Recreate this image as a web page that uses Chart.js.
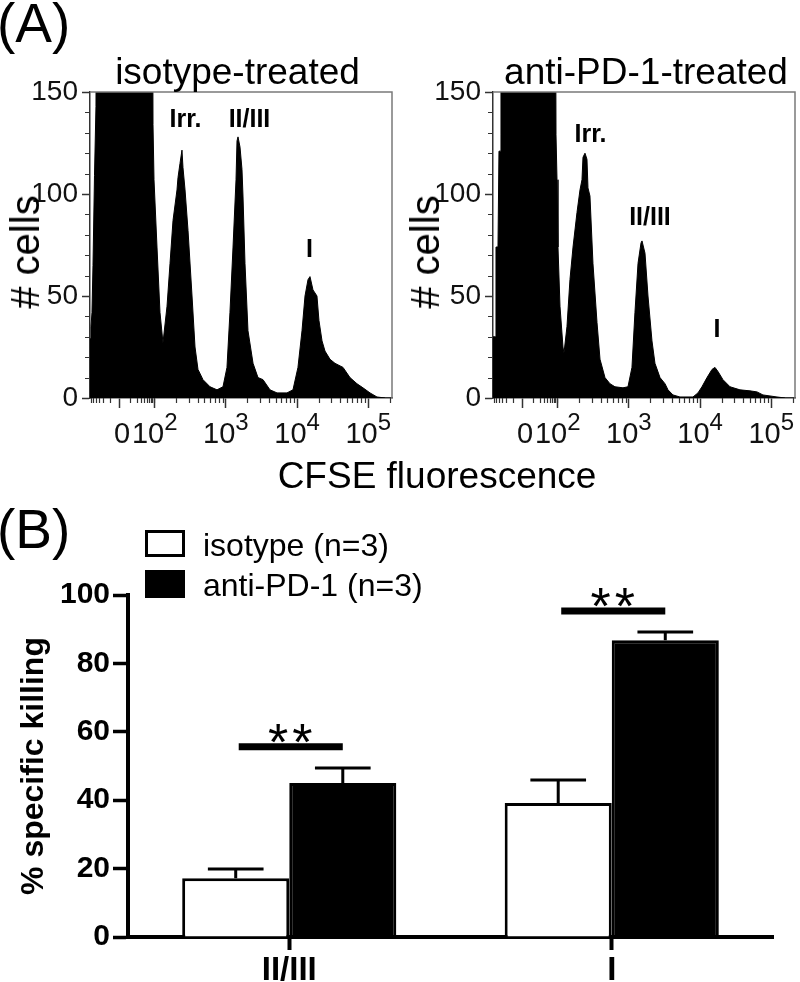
<!DOCTYPE html>
<html>
<head>
<meta charset="utf-8">
<title>CFSE in vivo killing</title>
<script src="https://cdn.jsdelivr.net/npm/chart.js@4.4.1/dist/chart.umd.min.js"></script>
<style>
  html, body { margin:0; padding:0; background:#fff; }
  body { position:relative; width:800px; height:982px; overflow:hidden; font-family:"Liberation Sans", Arial, sans-serif; color:#000; }
  canvas { position:absolute; }
  .txt { position:absolute; white-space:nowrap; line-height:1; color:#000; }
  .box { position:absolute; box-sizing:border-box; border:3px solid #000; }
</style>
</head>
<body>
<canvas id="histIso" width="400" height="400" style="left:0px;top:60px;width:400px;height:400px"></canvas>
<canvas id="histPd1" width="400" height="400" style="left:400px;top:60px;width:400px;height:400px"></canvas>
<canvas id="killing" width="800" height="482" style="left:0px;top:500px;width:800px;height:482px"></canvas>
<div class="box" style="left:145px;top:530px;width:40px;height:27px;background:#fff"></div>
<div class="box" style="left:145px;top:570px;width:40px;height:28px;background:#000"></div>
<script>
// ================= DATA =================
// Histogram x values are positions on the biexponential CFSE display axis,
// expressed in decades (2 = 10^2, 3 = 10^3, ...). Counts are # cells.
const isoChannel = [1.091, 1.105, 1.119, 1.133, 1.154, 1.175, 1.189, 1.962, 1.976, 1.990,
  2.032, 2.074, 2.116, 2.173, 2.215, 2.257, 2.313, 2.327, 2.355, 2.383,
  2.397, 2.426, 2.468, 2.524, 2.566, 2.608, 2.678, 2.777, 2.875, 2.959,
  3.015, 3.057, 3.100, 3.142, 3.156, 3.170, 3.198, 3.226, 3.240, 3.268,
  3.310, 3.381, 3.451, 3.521, 3.619, 3.718, 3.858, 3.942, 4.012, 4.069,
  4.111, 4.153, 4.181, 4.223, 4.279, 4.307, 4.350, 4.392, 4.462, 4.532,
  4.645, 4.743, 4.841, 4.925, 5.024, 5.122, 5.235];
const isoCount = [29, 35, 42, 65, 109, 143, 300, 300, 134, 107,
  74, 42, 27, 45, 66, 87, 102, 108, 115, 121.5,
  113, 102, 82, 50, 25, 14, 9, 5.5, 4, 5.5,
  15, 42, 74, 107, 126, 128, 123, 112, 99, 66,
  33, 17, 10, 9, 4, 2.5, 2.5, 4, 15, 33,
  50, 58, 59.5, 53, 50, 38, 28, 23, 19, 17,
  15, 10, 7, 5, 2.5, 0.5, 0];

const pd1Channel = [1.091, 1.126, 1.133, 1.161, 1.175, 1.196, 1.203, 1.962, 1.976, 1.990,
  2.004, 2.032, 2.074, 2.088, 2.130, 2.172, 2.215, 2.271, 2.313, 2.341,
  2.355, 2.383, 2.411, 2.425, 2.453, 2.495, 2.552, 2.594, 2.664, 2.734,
  2.804, 2.917, 2.987, 3.043, 3.085, 3.128, 3.170, 3.184, 3.226, 3.268,
  3.324, 3.366, 3.437, 3.507, 3.549, 3.619, 3.717, 3.900, 3.970, 4.026,
  4.097, 4.167, 4.209, 4.251, 4.321, 4.420, 4.560, 4.701, 4.799, 4.883,
  4.982, 5.080, 5.192];
const pd1Count = [30, 30, 74, 74, 121, 121, 300, 300, 129, 107,
  74, 45, 25, 22, 35, 58, 74, 91, 102, 107,
  118, 120, 117, 103, 99, 66, 37, 19, 10, 7,
  5.5, 5, 5.5, 15, 42, 66, 76, 77, 71, 50,
  28, 17, 10, 7, 4, 1.5, 0.5, 0.5, 2.5, 5.5,
  10, 14, 15, 13, 9, 5.5, 4, 3.5, 3, 1.5,
  1, 0.5, 0];

const histTickValues = [1.512, 2, 3, 4, 5];
const histTickBase = ['0', '10', '10', '10', '10'];
const histTickExp = ['', '2', '3', '4', '5'];
const histYTicks = [0, 50, 100, 150];
const peakNames = ['Irr.', 'II/III', 'I'];
const isoPeakLabelAt = [[2.432, 132.8], [3.331, 132.8], [4.174, 69.1]];
const pd1PeakLabelAt = [[2.460, 125.5], [3.296, 84.8], [4.237, 29.9]];

const killCategories = ['II/III', 'I'];
const isotypeMean = [17.2, 39.2];
const isotypeSEM = [2.7, 6.7];
const antiPD1Mean = [45.0, 86.8];
const antiPD1SEM = [4.4, 2.4];
const sigLevel = [55.6, 95.3];
const sigLabel = ['**', '**'];
const legendLabels = ['isotype (n=3)', 'anti-PD-1 (n=3)'];

// ================= SETUP =================
const FONT = '"Liberation Sans", Arial, Helvetica, sans-serif';
Chart.defaults.font.family = FONT;
Chart.defaults.color = '#111';

const X_MIN = 1.091, X_MAX = 5.333, ZERO_U = histTickValues[0];
function biexPos(v) {
  if (v >= 100) return Math.log10(v);
  return ZERO_U + (2 - ZERO_U) * Math.asinh(v / 10) / Math.asinh(10);
}
const xMinor = [];
for (let v = 10; v < 100; v += 10) { xMinor.push(biexPos(v)); xMinor.push(biexPos(-v)); }
for (let k = 2; k <= 5; k++) for (let m = 2; m <= 9; m++) xMinor.push(Math.log10(m * Math.pow(10, k)));

const histDecor = {
  id: 'histDecor',
  afterDraw(chart, args, opts) {
    const { ctx, chartArea: a, scales: { x, y } } = chart;
    ctx.save();
    // frame (top / right)
    ctx.strokeStyle = '#7a7a7a'; ctx.lineWidth = 1.5;
    ctx.beginPath(); ctx.moveTo(a.left, a.top); ctx.lineTo(a.right, a.top); ctx.lineTo(a.right, a.bottom); ctx.stroke();
    // minor ticks
    ctx.strokeStyle = '#333'; ctx.lineWidth = 1.2;
    ctx.beginPath();
    for (const v of xMinor) {
      if (v < x.min || v > x.max) continue;
      const px = Math.round(x.getPixelForValue(v)) + 0.5;
      ctx.moveTo(px, a.bottom); ctx.lineTo(px, a.bottom + 5);
    }
    for (let v = 10; v < 150; v += 10) {
      if (v % 50 === 0) continue;
      const py = Math.round(y.getPixelForValue(v)) + 0.5;
      ctx.moveTo(a.left, py); ctx.lineTo(a.left - 5, py);
    }
    ctx.stroke();
    // x tick labels with superscripts
    ctx.fillStyle = '#111'; ctx.textBaseline = 'alphabetic'; ctx.textAlign = 'left';
    const baseY = a.bottom + 45;
    histTickValues.forEach((v, i) => {
      const px = x.getPixelForValue(v);
      ctx.font = '29px ' + FONT;
      const w1 = ctx.measureText(histTickBase[i]).width;
      ctx.font = '24px ' + FONT;
      const w2 = histTickExp[i] ? ctx.measureText(histTickExp[i]).width : 0;
      const left = px - (w1 + w2) / 2 + (i === 0 ? 2 : 0);
      ctx.font = '29px ' + FONT;
      ctx.fillText(histTickBase[i], left, baseY);
      if (histTickExp[i]) { ctx.font = '24px ' + FONT; ctx.fillText(histTickExp[i], left + w1, baseY - 13); }
    });
    // peak annotations
    ctx.font = 'bold 25px ' + FONT; ctx.textAlign = 'center'; ctx.fillStyle = '#000';
    opts.labels.forEach((p, i) => ctx.fillText(peakNames[i], x.getPixelForValue(p[0]), y.getPixelForValue(p[1])));
    ctx.restore();
  }
};

function makeHist(id, xs, ys, labelAt, yWidth, padRight) {
  return new Chart(document.getElementById(id), {
    type: 'line',
    data: {
      datasets: [{
        data: xs.map((v, i) => ({ x: v, y: ys[i] })),
        borderColor: '#000', backgroundColor: '#000', borderWidth: 1,
        fill: 'origin', pointRadius: 0, tension: 0
      }]
    },
    options: {
      responsive: false, animation: false, devicePixelRatio: 1,
      layout: { padding: { top: 32, right: padRight, left: 0, bottom: 0 } },
      plugins: { legend: { display: false }, tooltip: { enabled: false }, histDecor: { labels: labelAt } },
      scales: {
        x: {
          type: 'linear', min: X_MIN, max: X_MAX,
          afterBuildTicks: s => { s.ticks = histTickValues.map(v => ({ value: v })); },
          afterFit: s => { s.height = 62; },
          ticks: { display: false },
          grid: { drawOnChartArea: false, drawTicks: true, tickLength: 10, tickColor: '#333', tickWidth: 1.5 },
          border: { display: true, color: '#333', width: 1.5 }
        },
        y: {
          min: 0, max: 150,
          afterBuildTicks: s => { s.ticks = histYTicks.map(v => ({ value: v })); },
          afterFit: s => { s.width = yWidth; },
          ticks: { font: { size: 28 }, color: '#111', padding: 4 },
          grid: { drawOnChartArea: false, tickLength: 8, tickColor: '#333', tickWidth: 1.5 },
          border: { display: true, color: '#333', width: 1.5 }
        }
      }
    },
    plugins: [histDecor]
  });
}
makeHist('histIso', isoChannel, isoCount, isoPeakLabelAt, 90, 8);
makeHist('histPd1', pd1Channel, pd1Count, pd1PeakLabelAt, 93, 5);

// ---------- bar chart ----------
const barDecor = {
  id: 'barDecor',
  afterDatasetsDraw(chart) {
    const { ctx, scales: { y } } = chart;
    const sems = [isotypeSEM, antiPD1SEM];
    const means = [isotypeMean, antiPD1Mean];
    ctx.save();
    ctx.strokeStyle = '#000'; ctx.lineCap = 'butt';
    // error bars (upper)
    [0, 1].forEach(di => {
      chart.getDatasetMeta(di).data.forEach((bar, j) => {
        const top = y.getPixelForValue(means[di][j]);
        const err = y.getPixelForValue(means[di][j] + sems[di][j]);
        const cw = bar.width * 0.52;
        ctx.lineWidth = 3;
        ctx.beginPath();
        ctx.moveTo(bar.x, top); ctx.lineTo(bar.x, err);
        ctx.moveTo(bar.x - cw / 2, err); ctx.lineTo(bar.x + cw / 2, err);
        ctx.stroke();
      });
    });
    // significance bars
    const m0 = chart.getDatasetMeta(0).data, m1 = chart.getDatasetMeta(1).data;
    killCategories.forEach((c, j) => {
      const ly = y.getPixelForValue(sigLevel[j]);
      ctx.lineWidth = 7;
      ctx.beginPath(); ctx.moveTo(m0[j].x + 3, ly); ctx.lineTo(m1[j].x, ly); ctx.stroke();
      ctx.fillStyle = '#000';
      ctx.font = '52px ' + FONT;
      ctx.textAlign = 'center'; ctx.textBaseline = 'alphabetic';
      ctx.letterSpacing = '4px';
      ctx.fillText(sigLabel[j], (m0[j].x + m1[j].x) / 2 + 3, ly + 13);
      ctx.letterSpacing = '0px';
    });
    ctx.restore();
  }
};

new Chart(document.getElementById('killing'), {
  type: 'bar',
  data: {
    labels: killCategories,
    datasets: [
      { label: legendLabels[0], data: isotypeMean, backgroundColor: '#fff', borderColor: '#000', borderWidth: 3,
        categoryPercentage: 0.664, barPercentage: 1.0 },
      { label: legendLabels[1], data: antiPD1Mean, backgroundColor: '#000', borderColor: '#000', borderWidth: 3,
        categoryPercentage: 0.664, barPercentage: 1.0 }
    ]
  },
  options: {
    responsive: false, animation: false, devicePixelRatio: 1,
    layout: { padding: { top: 95, right: 27, left: 0, bottom: 0 } },
    plugins: { legend: { display: false }, tooltip: { enabled: false } },
    scales: {
      x: {
        afterFit: s => { s.height = 45; },
        ticks: { font: { size: 33, weight: 'bold' }, color: '#000', padding: 1, maxRotation: 0 },
        grid: { offset: false, drawOnChartArea: false, tickLength: 13, tickWidth: 4, tickColor: '#000' },
        border: { display: true, color: '#000', width: 4 }
      },
      y: {
        min: 0, max: 100,
        ticks: { stepSize: 20, font: { size: 30, weight: 'bold' }, color: '#000', padding: 3 },
        afterFit: s => { s.width = 128; },
        title: { display: true, text: '% specific killing', font: { size: 32, weight: 'bold' }, color: '#000', padding: { top: 15, bottom: 0 } },
        grid: { drawOnChartArea: false, tickLength: 15, tickWidth: 3.5, tickColor: '#000' },
        border: { display: true, color: '#000', width: 4 }
      }
    }
  },
  plugins: [barDecor]
});

// ---------- HTML text ----------
function label(text, o) {
  const d = document.createElement('div');
  d.className = 'txt'; d.textContent = text;
  d.style.fontSize = o.size + 'px';
  if (o.bold) d.style.fontWeight = 'bold';
  if (o.rotate) {
    d.style.left = o.x + 'px'; d.style.top = o.y + 'px';
    d.style.transform = 'translate(-50%,-50%) rotate(-90deg)';
  } else {
    d.style.top = (o.base - 0.8465 * o.size) + 'px';
    d.style.left = o.x + 'px';
    if (o.align !== 'left') d.style.transform = 'translateX(-50%)';
  }
  document.body.appendChild(d);
}
label('(A)', { x: -3, base: 43, size: 55, align: 'left' });
label('(B)', { x: -3, base: 549, size: 55, align: 'left' });
label('isotype-treated', { x: 237.5, base: 84, size: 37 });
label('anti-PD-1-treated', { x: 646, base: 84, size: 37 });
label('CFSE fluorescence', { x: 437, base: 488, size: 37 });
label('# cells', { x: 25, y: 252, size: 40, rotate: true });
label('# cells', { x: 425, y: 252, size: 40, rotate: true });
label(legendLabels[0], { x: 203, base: 556, size: 32, align: 'left' });
label(legendLabels[1], { x: 203, base: 596, size: 32, align: 'left' });
</script>
</body>
</html>
